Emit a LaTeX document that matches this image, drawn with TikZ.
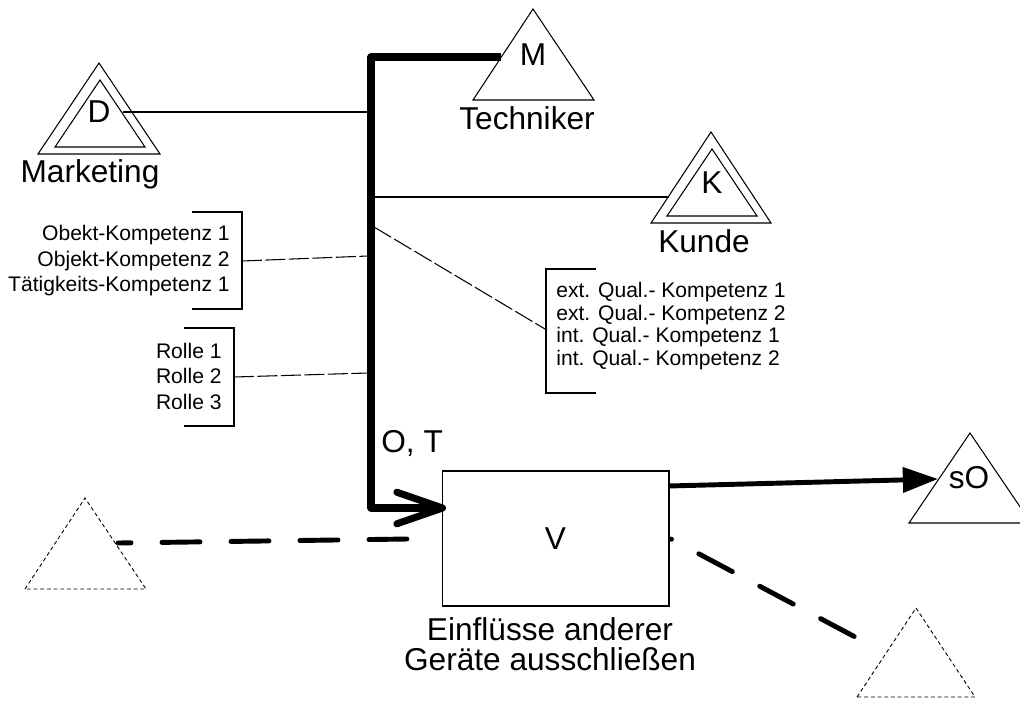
\documentclass[tikz,border=0pt]{standalone}
\usepackage{fontspec}
\setmainfont{Liberation Sans}
\usetikzlibrary{arrows.meta,positioning,calc}

\begin{document}
\begin{tikzpicture}[x=0.02cm, y=-0.02cm,
    actor/.style={line width=0.6pt},
    ghost/.style={line width=0.5pt, dash pattern=on 2.2pt off 1.6pt},
    link/.style={line width=0.6pt},
    linkdash/.style={line width=0.6pt, dash pattern=on 0.4cm off 0.07cm},
    bus/.style={line width=4pt, line join=round},
    flow/.style={line width=2.8pt},
    noise/.style={line width=2.8pt, line cap=round, dash pattern=on 0.76cm off 0.62cm},
    lbl/.style={font=\fontsize{18}{17}\selectfont, inner sep=0pt},
    lst/.style={font=\fontsize{12}{14.5}\selectfont, inner sep=0pt}]
    \useasboundingbox (0,0) rectangle (1020,700);

    % Actors (double triangles: D and K, single: M and sO)
    \draw[actor] (38,154) -- (99,63) -- (160,154) -- cycle;
    \draw[actor] (55,147) -- (100,80) -- (145,147) -- cycle;
    \draw[actor] (473,100) -- (533,9) -- (594,100) -- cycle;
    \draw[actor] (651,223) -- (711,132) -- (771,223) -- cycle;
    \draw[actor] (667,216) -- (712,149) -- (757,216) -- cycle;
    \draw[actor] (909,523) -- (970,433) -- (1031,523) -- cycle;

    % Unknown sources (dashed triangles)
    \draw[ghost] (25,589) -- (85,498) -- (146,589) -- cycle;
    \draw[ghost] (857,697) -- (916,608) -- (975,697) -- cycle;

    % Actor labels
    \node[lbl, anchor=base] (dlbl) at (99,122) {D};
    \node[lbl, anchor=base] (mkt) at (90,182) {Marketing};
    \node[lbl, anchor=base] (mlbl) at (533,65) {M};
    \node[lbl, anchor=base] (tech) at (527,129) {Techniker};
    \node[lbl, anchor=base] (klbl) at (712,193) {K};
    \node[lbl, anchor=base] (kunde) at (704,252) {Kunde};
    \node[lbl, anchor=base] (solbl) at (969,488) {sO};

    % Process box
    \node[lbl, draw, line width=0.6pt, minimum width=4.54cm, minimum height=2.7cm]
        (V) at (555.5,538.5) {V};
    \node[lbl, align=center, anchor=north] (note) at (550,617)
        {Einflüsse anderer\\Geräte ausschließen};
    \node[lbl, anchor=base west] (ot) at (381,452) {O, T};

    % Competence lists
    \node[lst, align=right, anchor=east] (kompA) at (230,261)
        {Obekt-Kompetenz 1\\Objekt-Kompetenz 2\\Tätigkeits-Kompetenz 1};
    \node[lst, align=right, anchor=east] (rollen) at (222,376)
        {Rolle 1\\Rolle 2\\Rolle 3};
    \node[lst, align=left, anchor=west, font=\fontsize{12}{13}\selectfont] (qual) at (556,326)
        {ext. Qual.- Kompetenz 1\\ext. Qual.- Kompetenz 2\\int. Qual.- Kompetenz 1\\int. Qual.- Kompetenz 2};

    % Brackets
    \draw[link] (192,212) -- (242,212) -- (242,309) -- (192,309);
    \draw[link] (184,328) -- (234,328) -- (234,426) -- (184,426);
    \draw[link] (596,269) -- (546,269) -- (546,393) -- (596,393);

    % Connection points
    \coordinate (dR) at (123,112);
    \coordinate (kL) at (669,197);
    \coordinate (mL) at (501,57);
    \coordinate (busT) at (371,57);
    \coordinate (busB) at (371,508);
    \coordinate (busD) at (371,112);
    \coordinate (busK) at (371,197);
    \coordinate (busA) at (368,256);
    \coordinate (busR) at (368,373);
    \coordinate (busQ) at (374,227);
    \coordinate (kompIn) at (242,261);
    \coordinate (rolIn) at (234,377);
    \coordinate (qualIn) at (545,329);
    \coordinate (vin) at (446,508);
    \coordinate (vout) at (668,486);
    \coordinate (soIn) at (938,479);
    \coordinate (gL) at (118,543);
    \coordinate (gLend) at (407.5,539);
    \coordinate (vdot) at (671,539);
    \coordinate (gR) at (854.8,636.8);

    % Thin links to the bus
    \draw[link] (dR) -- (busD);
    \draw[link] (busK) -- (kL);
    \draw[linkdash] (kompIn) -- (busA);
    \draw[linkdash] (rolIn) -- (busR);
    \draw[linkdash] (busQ) -- (qualIn);

    % Main bus from M to V
    \draw[bus, -{Straight Barb[length=26pt, width=18pt, round]}]
        (mL) -- (busT) -- (busB) -- (vin);

    % Output and disturbances
    \draw[flow, -{Triangle[length=20pt, width=14pt]}] (vout) -- (soIn);
    \draw[noise, dash phase=0.5cm] (gL) -- (gLend);
    \draw[noise, dash phase=0.75cm] (vdot) -- (gR);
\end{tikzpicture}
\end{document}
